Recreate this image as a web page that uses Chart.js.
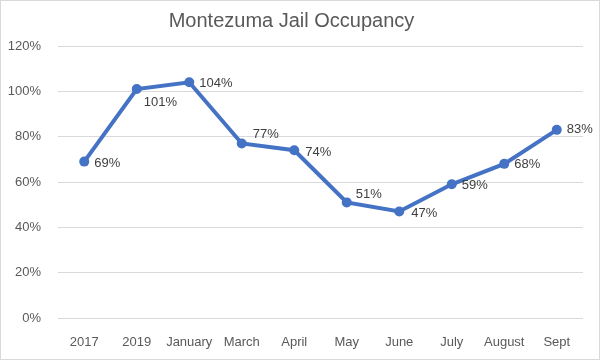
<!DOCTYPE html>
<html>
<head>
<meta charset="utf-8">
<script src="https://cdn.jsdelivr.net/npm/chart.js@4.4.1/dist/chart.umd.min.js"></script>
<style>
  html, body { margin: 0; padding: 0; background: #fff; }
  #wrap { width: 600px; height: 360px; position: relative; }
</style>
</head>
<body>
<div id="wrap"><canvas id="jailChart"></canvas></div>
<script>
const months = ['2017', '2019', 'January', 'March', 'April', 'May', 'June', 'July', 'August', 'Sept'];
const occupancy = [0.69, 1.01, 1.04, 0.77, 0.74, 0.51, 0.47, 0.59, 0.68, 0.83];
const yTicks = [0, 0.2, 0.4, 0.6, 0.8, 1.0, 1.2];

const grey = '#595959';
const fontFam = "'Liberation Sans', Arial, sans-serif";

// where each value label sits relative to its point (dx, dy)
const labelNudge = [
  [10, 2], [7, 13], [10, 1], [11, -9], [11, 2],
  [9, -8], [12, 2], [10, 1], [10, 1], [10, 0]
];

const pctLabels = {
  id: 'pctLabels',
  afterDatasetsDraw(chart) {
    const ctx = chart.ctx;
    const meta = chart.getDatasetMeta(0);
    ctx.save();
    ctx.font = '13px ' + fontFam;
    ctx.fillStyle = '#404040';
    ctx.textAlign = 'left';
    ctx.textBaseline = 'middle';
    meta.data.forEach((pt, i) => {
      const v = chart.data.datasets[0].data[i];
      const n = labelNudge[i] || [10, 0];
      ctx.fillText(Math.round(v * 100) + '%', pt.x + n[0], pt.y + n[1]);
    });
    ctx.restore();
  }
};

const frame = {
  id: 'frame',
  beforeDraw(chart) {
    const ctx = chart.ctx;
    ctx.save();
    ctx.fillStyle = '#fff';
    ctx.fillRect(0, 0, chart.width, chart.height);
    ctx.strokeStyle = '#d9d9d9';
    ctx.lineWidth = 1;
    ctx.strokeRect(0.5, 0.5, chart.width - 1, chart.height - 1);
    ctx.restore();
  }
};

const config_line = {
  type: 'line',
  data: {
    labels: months,
    datasets: [{
      label: 'Occupancy',
      data: occupancy,
      borderColor: '#4472C4',
      backgroundColor: '#4472C4',
      borderWidth: 4,
      pointRadius: 5,
      pointBackgroundColor: '#4472C4',
      pointBorderWidth: 0,
      tension: 0
    }]
  },
  options: {
    responsive: true,
    maintainAspectRatio: false,
    animation: false,
    layout: { padding: { top: 4, right: 17, bottom: 0, left: 0 } },
    plugins: {
      legend: { display: false },
      tooltip: { enabled: false },
      title: {
        display: true,
        text: 'Montezuma Jail Occupancy',
        color: grey,
        font: { family: fontFam, size: 20, weight: 'normal' },
        padding: { top: 5, bottom: 13 }
      }
    },
    scales: {
      x: {
        offset: true,
        grid: { display: false },
        border: { display: false },
        ticks: { color: grey, font: { family: fontFam, size: 13 }, padding: 9, maxRotation: 0 },
        afterFit(scale) { scale.height = 42; }
      },
      y: {
        min: 0,
        max: 1.2,
        afterBuildTicks(scale) { scale.ticks = yTicks.map(v => ({ value: v })); },
        grid: { color: '#d9d9d9', drawTicks: false },
        border: { display: false },
        ticks: {
          color: grey,
          font: { family: fontFam, size: 13 },
          padding: 17,
          callback: v => Math.round(v * 100) + '%'
        },
        afterFit(scale) { scale.width = 58; }
      }
    }
  },
  plugins: [frame, pctLabels]
};

let myChart = new Chart(document.getElementById('jailChart'), config_line);
</script>
</body>
</html>
